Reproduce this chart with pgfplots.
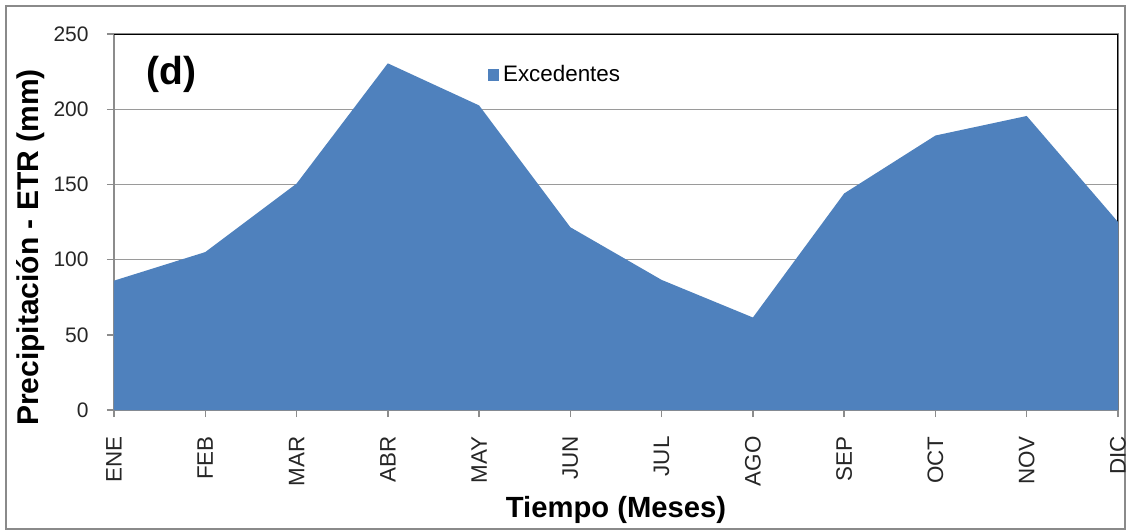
\documentclass[border=0pt]{standalone}
\usepackage{fontspec}
\setmainfont{Liberation Sans}
\usepackage{pgfplots}
\pgfplotsset{compat=1.18}
\definecolor{exc}{HTML}{4F81BD}
\definecolor{gridc}{HTML}{9A9A9A}
\definecolor{axisc}{HTML}{8C8C8C}
\definecolor{framec}{HTML}{8A8A8A}
\begin{document}
\begin{tikzpicture}[x=1pt,y=1pt]
\useasboundingbox (-57,-60.5) rectangle (507.5,205);
\draw[framec, line width=1pt] (-54,-59.5) rectangle (505.5,202);
\begin{axis}[
  at={(0,0)}, anchor=south west,
  scale only axis, width=502pt, height=188pt,
  xmin=0, xmax=11, ymin=0, ymax=250,
  xtick={0,...,11},
  xticklabels={ENE,FEB,MAR,ABR,MAY,JUN,JUL,AGO,SEP,OCT,NOV,DIC},
  ytick={0,50,100,150,200,250},
  tick pos=left,
  tick align=outside,
  major tick length=3.5pt,
  ymajorgrids,
  grid style={gridc, line width=0.7pt},
  axis line style={axisc, line width=0.7pt},
  tick style={axisc, line width=0.7pt},
  /pgf/number format/assume math mode=true,
  yticklabel style={font=\fontsize{10.5}{12}\selectfont, text=black!85, inner sep=0pt, xshift=-9pt},
  xticklabel style={rotate=90, anchor=east, font=\fontsize{11.2}{12}\selectfont, text=black!85, inner sep=0pt, xshift=-9.5pt},
  xlabel={Tiempo (Meses)},
  xlabel style={at={(rel axis cs:0.5,0)}, anchor=center, yshift=-50pt, font=\bfseries\fontsize{14.6}{16}\selectfont},
  ylabel={Precipitación - ETR (mm)},
  ylabel style={at={(rel axis cs:0,0.432)}, anchor=center, yshift=41.5pt, font=\bfseries\fontsize{15}{16}\selectfont},
  legend style={at={(rel axis cs:0.372,0.891)}, anchor=west, draw=none, fill=none, inner sep=0pt,
    font=\fontsize{11.2}{12}\selectfont},
  legend image code/.code={\fill[#1] (0pt,-2.8pt) rectangle (5.6pt,2.8pt);},
  legend cell align=left,
]
\draw[black, line width=0.8pt] (rel axis cs:0,1) -- (rel axis cs:1,1) -- (rel axis cs:1,0);
\addplot[fill=exc, draw=none] coordinates {
  (0,86) (1,105) (2,150.5) (3,230.5) (4,202.5) (5,121.5) (6,86.5) (7,61.5) (8,144) (9,182.5) (10,195.5) (11,125)
} \closedcycle;
\addlegendentry{Excedentes}
\node[font=\bfseries\fontsize{19.5}{21}\selectfont, anchor=west, inner sep=0pt] at (rel axis cs:0.032,0.893) {(d)};
\end{axis}
\end{tikzpicture}
\end{document}
